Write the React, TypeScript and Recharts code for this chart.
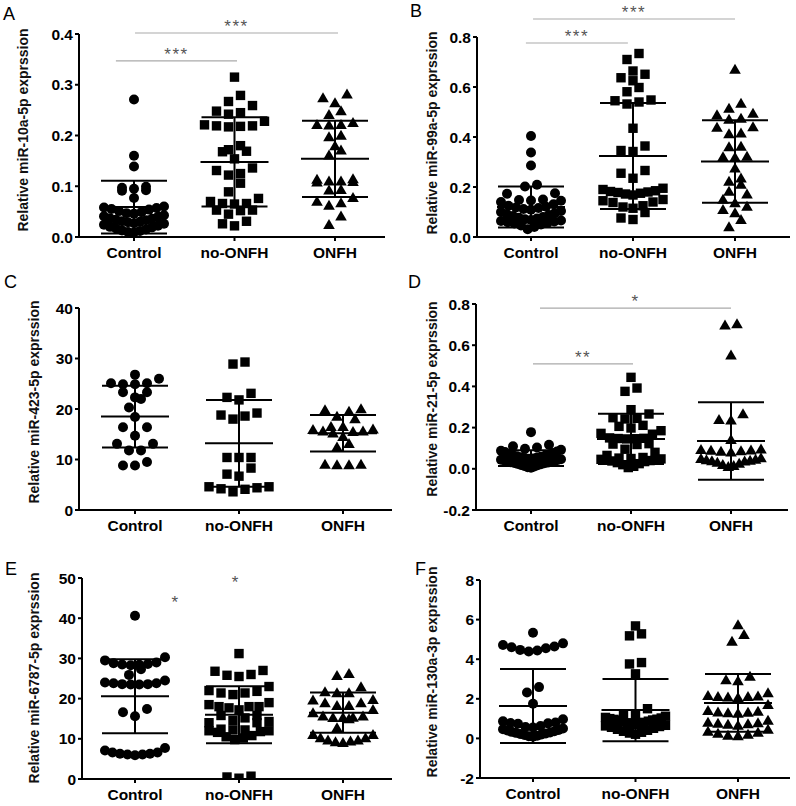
import React from 'react';
import { ScatterChart, Scatter, XAxis, YAxis, ErrorBar, ReferenceLine, ReferenceDot } from 'recharts';

const GROUPS = ['Control', 'no-ONFH', 'ONFH'];
const FONT = '"Liberation Sans", Arial, sans-serif';

// A: miR-10a-5p
const aControl = [0.271, 0.160, 0.139, 0.099, 0.097, 0.095, 0.092, 0.091, 0.077, 0.060, 0.058, 0.057, 0.055, 0.054, 0.051, 0.049, 0.047, 0.046, 0.043, 0.041, 0.040, 0.037, 0.036, 0.034, 0.033, 0.031, 0.030, 0.029, 0.027, 0.026, 0.024, 0.022, 0.020, 0.019, 0.017, 0.015, 0.013, 0.012, 0.010, 0.009];
const aNoOnfh = [0.315, 0.279, 0.267, 0.259, 0.248, 0.245, 0.242, 0.228, 0.221, 0.219, 0.219, 0.218, 0.217, 0.180, 0.172, 0.169, 0.168, 0.154, 0.136, 0.131, 0.125, 0.122, 0.106, 0.089, 0.076, 0.070, 0.066, 0.065, 0.066, 0.053, 0.052, 0.053, 0.045, 0.031, 0.026, 0.022];
const aOnfh = [0.281, 0.274, 0.264, 0.248, 0.241, 0.225, 0.221, 0.221, 0.220, 0.200, 0.197, 0.179, 0.171, 0.161, 0.114, 0.113, 0.110, 0.110, 0.109, 0.108, 0.093, 0.092, 0.077, 0.070, 0.067, 0.062, 0.041, 0.024];
const aMeans = [0.059, 0.148, 0.154];
const aSds = [0.052, 0.088, 0.075];

// B: miR-99a-5p
const bControl = [0.404, 0.338, 0.286, 0.209, 0.202, 0.175, 0.173, 0.150, 0.148, 0.146, 0.145, 0.140, 0.131, 0.125, 0.121, 0.118, 0.116, 0.112, 0.109, 0.104, 0.100, 0.096, 0.091, 0.088, 0.084, 0.080, 0.077, 0.074, 0.071, 0.068, 0.066, 0.064, 0.062, 0.059, 0.057, 0.054, 0.050, 0.046, 0.040, 0.031];
const bNoOnfh = [0.734, 0.710, 0.664, 0.651, 0.637, 0.625, 0.598, 0.581, 0.548, 0.545, 0.540, 0.532, 0.435, 0.364, 0.346, 0.342, 0.266, 0.255, 0.235, 0.195, 0.190, 0.185, 0.182, 0.180, 0.178, 0.175, 0.172, 0.168, 0.150, 0.145, 0.140, 0.138, 0.125, 0.120, 0.115, 0.098, 0.076, 0.070];
const bOnfh = [0.670, 0.534, 0.514, 0.494, 0.488, 0.474, 0.470, 0.440, 0.438, 0.415, 0.412, 0.362, 0.360, 0.322, 0.320, 0.318, 0.275, 0.235, 0.222, 0.210, 0.182, 0.171, 0.150, 0.136, 0.122, 0.109, 0.096, 0.069, 0.040];
const bMeans = [0.120, 0.324, 0.302];
const bSds = [0.082, 0.212, 0.165];

// C: miR-423-5p
const cControl = [26.8, 26.0, 25.1, 24.9, 24.9, 25.1, 23.3, 23.3, 22.0, 22.3, 20.3, 18.4, 16.4, 16.4, 14.7, 13.1, 13.1, 11.8, 11.8, 9.5, 8.8, 8.8];
const cNoOnfh = [29.3, 28.9, 23.1, 22.3, 21.8, 19.2, 18.6, 18.0, 18.8, 10.4, 10.4, 10.4, 8.3, 7.1, 6.7, 4.6, 4.2, 3.6, 4.1, 4.4, 4.6];
const cOnfh = [19.8, 20.0, 19.5, 18.5, 18.0, 16.5, 16.5, 15.9, 15.6, 15.5, 15.6, 16.0, 15.2, 14.5, 13.1, 12.4, 9.0, 8.9, 8.9, 9.0];
const cMeans = [18.5, 13.2, 15.2];
const cSds = [6.1, 8.6, 3.6];

// D: miR-21-5p
const dControl = [0.178, 0.117, 0.109, 0.103, 0.097, 0.092, 0.088, 0.084, 0.081, 0.077, 0.072, 0.069, 0.066, 0.063, 0.061, 0.058, 0.056, 0.055, 0.052, 0.050, 0.049, 0.046, 0.044, 0.043, 0.040, 0.038, 0.036, 0.035, 0.032, 0.030, 0.028, 0.027, 0.024, 0.022, 0.019, 0.017, 0.014, 0.011, 0.008, 0.005];
const dNoOnfh = [0.444, 0.392, 0.376, 0.287, 0.266, 0.248, 0.245, 0.242, 0.211, 0.206, 0.198, 0.185, 0.172, 0.168, 0.150, 0.148, 0.147, 0.145, 0.146, 0.122, 0.120, 0.118, 0.095, 0.080, 0.065, 0.055, 0.052, 0.050, 0.048, 0.046, 0.044, 0.042, 0.040, 0.038, 0.035, 0.030, 0.025, 0.020, 0.012, 0.006];
const dOnfh = [0.703, 0.697, 0.551, 0.266, 0.238, 0.236, 0.141, 0.095, 0.092, 0.090, 0.088, 0.086, 0.084, 0.080, 0.052, 0.048, 0.045, 0.043, 0.040, 0.038, 0.036, 0.030, 0.025, 0.020, 0.015, 0.010];
const dMeans = [0.052, 0.145, 0.135];
const dSds = [0.038, 0.122, 0.188];

// E: miR-6787-5p
const eControl = [40.6, 30.3, 29.5, 29.0, 28.8, 28.6, 28.5, 28.3, 28.4, 27.3, 25.9, 24.5, 24.0, 23.8, 23.6, 23.5, 23.5, 23.6, 23.8, 17.4, 16.6, 15.6, 7.7, 6.6, 6.3, 6.1, 5.9, 6.1, 6.3, 6.6, 7.1];
const eNoOnfh = [31.2, 27.0, 26.8, 26.0, 25.8, 25.5, 23.0, 22.0, 21.8, 21.4, 21.4, 21.0, 19.0, 18.5, 18.0, 18.0, 18.0, 17.7, 17.2, 15.8, 15.8, 15.2, 14.5, 14.3, 14.0, 14.0, 12.4, 12.2, 12.0, 11.8, 11.6, 12.0, 12.2, 10.8, 10.5, 10.2, 9.8, 0.7, 0.5, 0.2];
const eOnfh = [26.2, 25.7, 22.9, 21.6, 21.4, 21.4, 19.7, 19.6, 18.9, 18.9, 18.2, 18.2, 17.2, 16.4, 15.6, 15.6, 15.3, 15.2, 15.2, 14.9, 12.7, 11.0, 11.0, 10.2, 10.2, 9.6, 9.6, 9.4, 9.2, 9.0];
const eMeans = [20.6, 16.0, 16.5];
const eSds = [9.2, 7.1, 5.0];

// F: miR-130a-3p
const fControl = [5.34, 4.80, 4.72, 4.64, 4.60, 4.55, 4.47, 4.44, 4.39, 2.59, 2.32, 1.75, 0.97, 0.86, 0.80, 0.78, 0.76, 0.74, 0.62, 0.58, 0.55, 0.50, 0.46, 0.42, 0.40, 0.36, 0.33, 0.30, 0.28, 0.25, 0.22, 0.20, 0.17, 0.14, 0.11, 0.08];
const fNoOnfh = [5.68, 5.28, 5.18, 3.83, 3.76, 3.26, 1.50, 1.21, 1.16, 1.12, 1.06, 1.03, 1.00, 0.97, 0.96, 0.93, 0.90, 0.87, 0.84, 0.81, 0.79, 0.74, 0.71, 0.69, 0.66, 0.63, 0.60, 0.56, 0.51, 0.46, 0.41, 0.36, 0.31, 0.27, 0.21];
const fOnfh = [5.73, 5.23, 4.89, 3.13, 2.95, 2.90, 2.29, 2.15, 2.12, 2.10, 2.08, 2.10, 2.05, 1.70, 1.40, 1.35, 1.32, 1.30, 1.28, 1.25, 0.90, 0.80, 0.75, 0.78, 0.72, 0.70, 0.65, 0.45, 0.35, 0.30, 0.25, 0.20, 0.15, 0.12];
const fMeans = [1.64, 1.43, 1.79];
const fSds = [1.87, 1.57, 1.46];

// significance brackets (group positions, height, stars)
const aSigs = [
  { x1: -0.18, x2: 1.025, y: 0.347, text: '***' },
  { x1: 0.01, x2: 2.03, y: 0.402, text: '***' },
];
const bSigs = [
  { x1: -0.05, x2: 0.95, y: 0.776, text: '***' },
  { x1: 0.02, x2: 2.0, y: 0.872, text: '***' },
];
const dSigs = [
  { x1: 0.02, x2: 1.02, y: 0.509, text: '**' },
  { x1: 0.09, x2: 2.0, y: 0.78, text: '*' },
];
const eStars = [
  { x: 0.39, y: 42.5, text: '*' },
  { x: 0.97, y: 47.5, text: '*' },
];

const Y_W = 50;
const X_H = 25;
const BIN = 9; // px, points closer than this share a row
const STEP = 12; // px between neighbours in a row
const MAXHALF = 30; // px, widest spread of a row

// GraphPad-like column scatter: rows of nearby values spread sideways, lowest in the middle
function swarm(values: number[], center: number, pxX: number, pxY: number) {
  const sorted = [...values].sort((a, b) => a - b);
  const out: { x: number; y: number }[] = [];
  let i = 0;
  while (i < sorted.length) {
    let j = i;
    while (j < sorted.length && (sorted[j] - sorted[i]) * pxY <= BIN) j++;
    const row = sorted.slice(i, j);
    const n = row.length;
    const step = n > 1 ? Math.min(STEP, (2 * MAXHALF) / (n - 1)) : 0;
    const slots = row
      .map((_, k) => (k - (n - 1) / 2) * step)
      .sort((a, b) => Math.abs(a) - Math.abs(b) || a - b);
    row.forEach((v, k) => out.push({ x: center + slots[k] / pxX, y: v }));
    i = j;
  }
  return out;
}

const Dot = (p: any) => <circle cx={p.cx} cy={p.cy} r={5} fill="#000" />;
const Sq = (p: any) => <rect x={p.cx - 4.7} y={p.cy - 4.7} width={9.4} height={9.4} fill="#000" />;
const Tri = (p: any) => (
  <polygon points={`${p.cx},${p.cy - 5.8} ${p.cx + 5.8},${p.cy + 4.2} ${p.cx - 5.8},${p.cy + 4.2}`} fill="#000" />
);
const MeanLine = (p: any) => (
  <line x1={p.cx - 34} x2={p.cx + 34} y1={p.cy} y2={p.cy} stroke="#000" strokeWidth={2} />
);
const SHAPES = [Dot, Sq, Tri];

interface PanelProps {
  letter: string;
  title: string;
  left: number;
  top: number;
  height: number;
  x0: number;
  x1: number;
  c0: number;
  c2: number;
  yTop: number;
  yBottom: number;
  domain: [number, number];
  ticks: number[];
  decimals: number;
  groups: number[][];
  means: number[];
  sds: number[];
  sigs?: { x1: number; x2: number; y: number; text: string }[];
  stars?: { x: number; y: number; text: string }[];
  letterPos: [number, number];
  titlePos: [number, number];
}

function Panel(props: PanelProps) {
  const { left, top, height, x0, x1, c0, c2, yTop, yBottom, domain } = props;
  const pxX = (c2 - c0) / 2;
  const xMin = -(c0 - x0) / pxX;
  const xMax = 2 + (x1 - c2) / pxX;
  const pxY = (yBottom - yTop) / (domain[1] - domain[0]);
  const margin = {
    left: x0 - left - Y_W,
    top: yTop - top,
    right: left + 398 - x1,
    bottom: top + height - yBottom - X_H,
  };
  const tickStyle = { fontFamily: FONT, fontWeight: 'bold', fontSize: 15.5, fill: '#000' };
  const starStyle = { fill: '#555', fontSize: 17, fontFamily: FONT, letterSpacing: 1.5 };
  const meanData = props.means.map((m, i) => ({ x: i, y: m, sd: props.sds[i] }));

  const titles = () => (
    <g>
      <text
        x={props.letterPos[0] - left}
        y={props.letterPos[1] - top}
        fontFamily={FONT}
        fontSize={18}
        fill="#000"
      >
        {props.letter}
      </text>
      <text
        x={props.titlePos[0] - left}
        y={props.titlePos[1] - top}
        transform={`rotate(-90, ${props.titlePos[0] - left}, ${props.titlePos[1] - top})`}
        textAnchor="middle"
        fontFamily={FONT}
        fontWeight="bold"
        fontSize={14}
        fill="#111"
      >
        {props.title}
      </text>
    </g>
  );

  return (
    <div style={{ position: 'absolute', left, top, width: 398, height }}>
      <ScatterChart width={398} height={height} margin={margin}>
        <XAxis
          type="number"
          dataKey="x"
          domain={[xMin, xMax]}
          ticks={[0, 1, 2]}
          allowDataOverflow
          interval={0}
          height={X_H}
          tickSize={4}
          tickMargin={6}
          tickFormatter={(v: number) => GROUPS[Math.round(v)]}
          tick={tickStyle}
          axisLine={{ stroke: '#000', strokeWidth: 2 }}
          tickLine={{ stroke: '#000', strokeWidth: 2 }}
        />
        <YAxis
          type="number"
          dataKey="y"
          domain={domain}
          ticks={props.ticks}
          allowDataOverflow
          interval={0}
          width={Y_W}
          tickSize={4}
          tickMargin={2}
          tickFormatter={(v: number) => v.toFixed(props.decimals)}
          tick={tickStyle}
          axisLine={{ stroke: '#000', strokeWidth: 2 }}
          tickLine={{ stroke: '#000', strokeWidth: 2 }}
          label={titles}
        />
        {props.groups.map((vals, g) => (
          <Scatter
            key={g}
            data={swarm(vals, g, pxX, pxY)}
            shape={SHAPES[g]}
            isAnimationActive={false}
          />
        ))}
        <Scatter data={meanData} shape={MeanLine} isAnimationActive={false}>
          <ErrorBar dataKey="sd" direction="y" width={33} strokeWidth={2} stroke="#000" />
        </Scatter>
        {(props.sigs || []).map((s, i) => (
          <ReferenceLine
            key={`s${i}`}
            segment={[{ x: s.x1, y: s.y }, { x: s.x2, y: s.y }]}
            stroke="#aaa"
            strokeWidth={1.2}
            ifOverflow="visible"
            label={{ value: s.text, position: 'top', offset: 1, ...starStyle }}
          />
        ))}
        {(props.stars || []).map((s, i) => (
          <ReferenceDot
            key={`d${i}`}
            x={s.x}
            y={s.y}
            r={0}
            fill="none"
            stroke="none"
            ifOverflow="visible"
            label={{ value: s.text, position: 'top', offset: 0, ...starStyle }}
          />
        ))}
      </ScatterChart>
    </div>
  );
}

export default function App() {
  return (
    <div style={{ position: 'absolute', left: 0, top: 0, width: 796, height: 806, background: '#fff' }}>
      <Panel
        letter="A" title="Relative miR-10a-5p exprssion"
        left={0} top={0} height={265}
        x0={79} x1={385} c0={134} c2={335} yTop={34} yBottom={237}
        domain={[0, 0.4]} ticks={[0, 0.1, 0.2, 0.3, 0.4]} decimals={1}
        groups={[aControl, aNoOnfh, aOnfh]} means={aMeans} sds={aSds} sigs={aSigs}
        letterPos={[3, 20]} titlePos={[28, 130]}
      />
      <Panel
        letter="B" title="Relative miR-99a-5p exprssion"
        left={398} top={0} height={265}
        x0={477} x1={790} c0={531} c2={735} yTop={37} yBottom={237}
        domain={[0, 0.8]} ticks={[0, 0.2, 0.4, 0.6, 0.8]} decimals={1}
        groups={[bControl, bNoOnfh, bOnfh]} means={bMeans} sds={bSds} sigs={bSigs}
        letterPos={[410, 17]} titlePos={[437, 133]}
      />
      <Panel
        letter="C" title="Relative miR-423-5p exprssion"
        left={0} top={265} height={270}
        x0={79} x1={392} c0={135} c2={343} yTop={308} yBottom={510}
        domain={[0, 40]} ticks={[0, 10, 20, 30, 40]} decimals={0}
        groups={[cControl, cNoOnfh, cOnfh]} means={cMeans} sds={cSds}
        letterPos={[4, 288]} titlePos={[39, 402]}
      />
      <Panel
        letter="D" title="Relative miR-21-5p exprssion"
        left={398} top={265} height={270}
        x0={476} x1={788} c0={531} c2={731} yTop={304} yBottom={510}
        domain={[-0.2, 0.8]} ticks={[-0.2, 0, 0.2, 0.4, 0.6, 0.8]} decimals={1}
        groups={[dControl, dNoOnfh, dOnfh]} means={dMeans} sds={dSds} sigs={dSigs}
        letterPos={[408, 288]} titlePos={[437, 399]}
      />
      <Panel
        letter="E" title="Relative miR-6787-5p exprssion"
        left={0} top={530} height={276}
        x0={82} x1={392} c0={135} c2={343} yTop={578} yBottom={779}
        domain={[0, 50]} ticks={[0, 10, 20, 30, 40, 50]} decimals={0}
        groups={[eControl, eNoOnfh, eOnfh]} means={eMeans} sds={eSds} stars={eStars}
        letterPos={[5, 575]} titlePos={[39, 678]}
      />
      <Panel
        letter="F" title="Relative miR-130a-3p exprssion"
        left={398} top={530} height={276}
        x0={480} x1={790} c0={533} c2={738} yTop={580} yBottom={778}
        domain={[-2, 8]} ticks={[-2, 0, 2, 4, 6, 8]} decimals={0}
        groups={[fControl, fNoOnfh, fOnfh]} means={fMeans} sds={fSds}
        letterPos={[415, 575]} titlePos={[437, 672]}
      />
    </div>
  );
}
